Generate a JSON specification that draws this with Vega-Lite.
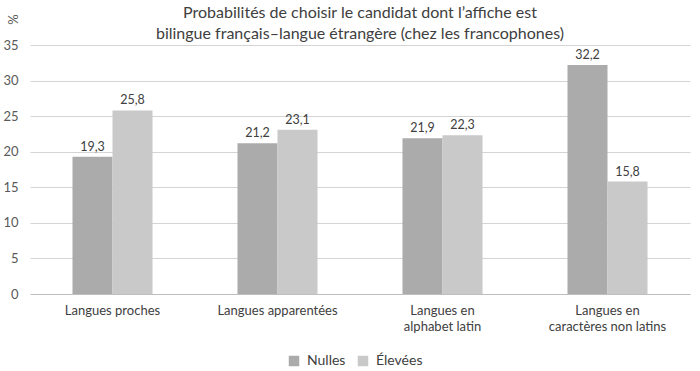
{
  "$schema": "https://vega.github.io/schema/vega-lite/v6.json",
  "width": 660,
  "height": 249,
  "autosize": {"type": "none"},
  "padding": {"left": 30, "top": 45, "right": 10, "bottom": 77},
  "background": "white",
  "config": {
    "font": "Lato",
    "view": {"stroke": null},
    "locale": {"number": {"decimal": ",", "thousands": " ", "grouping": [3], "currency": ["", " €"]}}
  },
  "title": {
    "text": "Probabilités de choisir le candidat dont l’affiche est",
    "subtitle": "bilingue français–langue étrangère (chez les francophones)",
    "anchor": "middle",
    "font": "Lato",
    "fontSize": 16,
    "fontWeight": "normal",
    "color": "#404040",
    "subtitleFont": "Lato",
    "subtitleFontSize": 16,
    "subtitleColor": "#404040",
    "subtitlePadding": 5,
    "offset": -28
  },
  "data": {
    "values": [
      {"cat": "Langues proches", "serie": "Nulles", "v": 19.3},
      {"cat": "Langues proches", "serie": "Élevées", "v": 25.8},
      {"cat": "Langues apparentées", "serie": "Nulles", "v": 21.2},
      {"cat": "Langues apparentées", "serie": "Élevées", "v": 23.1},
      {"cat": "Langues en|alphabet latin", "serie": "Nulles", "v": 21.9},
      {"cat": "Langues en|alphabet latin", "serie": "Élevées", "v": 22.3},
      {"cat": "Langues en|caractères non latins", "serie": "Nulles", "v": 32.2},
      {"cat": "Langues en|caractères non latins", "serie": "Élevées", "v": 15.8}
    ]
  },
  "encoding": {
    "x": {
      "field": "cat", "type": "nominal", "sort": null,
      "scale": {"paddingInner": 0.515, "paddingOuter": 0.2575},
      "axis": {
        "title": null, "labelAngle": 0, "labelExpr": "split(datum.label, '|')",
        "labelFontSize": 13, "labelColor": "#404040", "labelPadding": 10,
        "ticks": false, "domainColor": "#bfbfbf", "labelLineHeight": 16
      }
    },
    "xOffset": {"field": "serie", "type": "nominal", "sort": ["Nulles", "Élevées"], "scale": {"paddingInner": 0}},
    "y": {
      "field": "v", "type": "quantitative",
      "scale": {"domain": [0, 35], "nice": false},
      "axis": {
        "title": "%", "titleAngle": -90, "titleX": -17, "titleY": -26, "titleAlign": "center", "titleBaseline": "middle",
        "titleFontSize": 13, "titleFontWeight": "normal", "titleColor": "#595959",
        "values": [0, 5, 10, 15, 20, 25, 30, 35],
        "labelFontSize": 13, "labelColor": "#595959", "labelPadding": 12,
        "ticks": false, "domain": false, "gridColor": "#d4d4d4"
      }
    }
  },
  "layer": [
    {
      "mark": {"type": "bar"},
      "encoding": {
        "color": {
          "field": "serie", "type": "nominal", "sort": ["Nulles", "Élevées"],
          "scale": {"domain": ["Nulles", "Élevées"], "range": ["#ababab", "#c9c9c9"]},
          "legend": {
            "title": null, "orient": "none", "direction": "horizontal",
            "legendX": 257, "legendY": 309,
            "symbolType": "square", "symbolSize": 110, "symbolStrokeWidth": 0,
            "labelFontSize": 14, "labelColor": "#404040", "columnPadding": 10, "labelOffset": 6
          }
        }
      }
    },
    {
      "mark": {"type": "text", "dy": -10, "fontSize": 12.5, "color": "#404040"},
      "encoding": {
        "text": {"field": "v", "type": "quantitative", "format": ".1f"}
      }
    }
  ]
}
